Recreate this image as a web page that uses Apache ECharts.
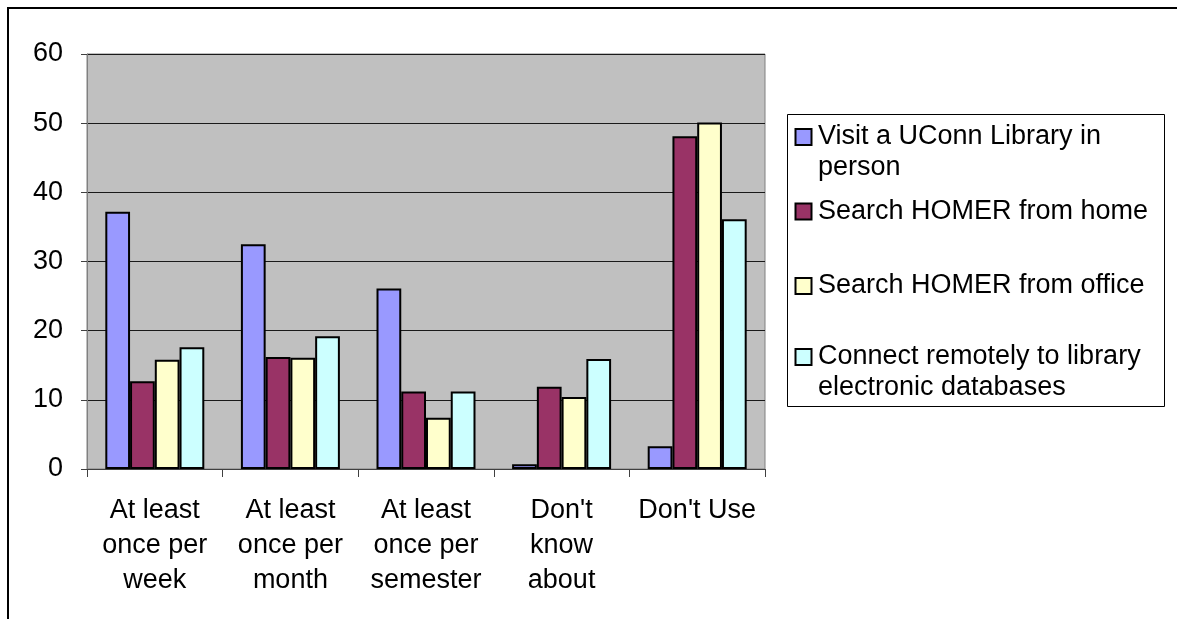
<!DOCTYPE html>
<html>
<head>
<meta charset="utf-8">
<script src="https://cdn.jsdelivr.net/npm/echarts@6/dist/echarts.min.js"></script>
<style>
  html, body { margin: 0; padding: 0; background: #fff; }
  #chart { width: 1177px; height: 619px; }
</style>
</head>
<body>
<div id="chart"></div>
<script>
// categories along the x axis
const categories = [
  'At least\nonce per\nweek',
  'At least\nonce per\nmonth',
  'At least\nonce per\nsemester',
  "Don't\nknow\nabout",
  "Don't Use"
];
// series names, as the legend shows them (with its line breaks)
const seriesNames = [
  'Visit a UConn Library in\nperson',
  'Search HOMER from home',
  'Search HOMER from office',
  'Connect remotely to library\nelectronic databases'
];
const seriesColors = ['#9999ff', '#993366', '#ffffcc', '#ccffff'];
// values
const visitInPerson = [37.2, 32.5, 26.1, 0.7, 3.3];
const homerHome = [12.7, 16.2, 11.2, 11.9, 48.1];
const homerOffice = [15.8, 16.1, 7.4, 10.4, 50.1];
const remoteDatabases = [17.6, 19.2, 11.2, 15.9, 36.1];
const yTicks = [0, 10, 20, 30, 40, 50, 60];

const seriesData = [visitInPerson, homerHome, homerOffice, remoteDatabases];
const font = 'Arial, "Liberation Sans", sans-serif';

const chart = echarts.init(document.getElementById('chart'));

// legend drawn by hand so the marker sits on the first text line, like Excel does
const legendTop = [137, 211.5, 286, 357];
const legendItems = [];
seriesNames.forEach((name, i) => {
  legendItems.push({
    type: 'rect',
    shape: { x: 795.5, y: legendTop[i] - 8, width: 16, height: 16 },
    style: { fill: seriesColors[i], stroke: '#000', lineWidth: 2 }
  });
  legendItems.push({
    type: 'text',
    x: 818,
    y: legendTop[i] - 15.5,
    style: {
      text: name,
      font: '27px ' + font,
      fill: '#000',
      lineHeight: 31,
      verticalAlign: 'top'
    }
  });
});

const option = {
  backgroundColor: '#fff',
  animation: false,
  grid: {
    left: 87,
    right: 412,
    top: 54,
    bottom: 150,
    show: true,
    backgroundColor: '#c0c0c0',
    borderColor: '#808080',
    borderWidth: 1
  },
  xAxis: {
    type: 'category',
    data: categories,
    axisLine: { lineStyle: { color: '#404040', width: 1 } },
    axisTick: { show: true, length: 8, lineStyle: { color: '#404040' } },
    axisLabel: {
      color: '#000',
      fontSize: 27,
      fontFamily: font,
      lineHeight: 35,
      margin: 24,
      interval: 0
    }
  },
  yAxis: {
    type: 'value',
    min: yTicks[0],
    max: yTicks[yTicks.length - 1],
    interval: 10,
    axisLine: { show: true, lineStyle: { color: '#808080' } },
    axisTick: { show: true, length: 6, lineStyle: { color: '#404040' } },
    axisLabel: {
      color: '#000',
      fontSize: 27,
      fontFamily: font,
      margin: 24
    },
    splitLine: { lineStyle: { color: '#1a1a1a', width: 1 } }
  },
  series: seriesData.map((data, i) => ({
    name: seriesNames[i],
    type: 'bar',
    data: data,
    barGap: '0%',
    barCategoryGap: '27%',
    itemStyle: {
      color: seriesColors[i],
      borderColor: '#000',
      borderWidth: 2
    },
    emphasis: { disabled: true }
  })),
  graphic: [
    {
      type: 'rect',
      shape: { x: 8, y: 8, width: 1300, height: 800 },
      style: { fill: 'none', stroke: '#000', lineWidth: 2 },
      silent: true
    },
    {
      type: 'rect',
      shape: { x: 787.5, y: 114.5, width: 377, height: 292 },
      style: { fill: '#fff', stroke: '#000', lineWidth: 1 },
      silent: true
    }
  ].concat(legendItems)
};

chart.setOption(option);
</script>
</body>
</html>
